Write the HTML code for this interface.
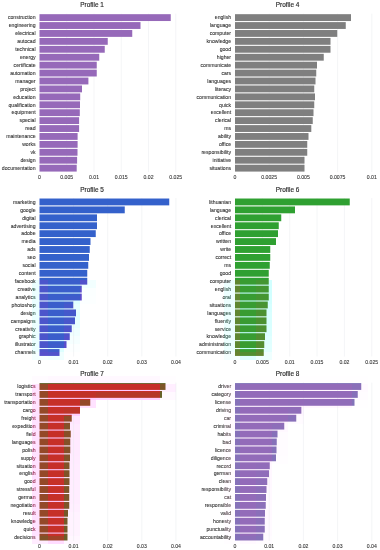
<!DOCTYPE html><html><head><meta charset="utf-8"><title>Profiles</title><style>html,body{margin:0;padding:0;background:#fff}svg{display:block}text{font-family:"Liberation Sans",sans-serif;stroke-width:0.09px}</style></head><body>
<svg width="380" height="550" viewBox="0 0 380 550">
<defs><filter id="tb" x="-5%" y="-20%" width="110%" height="140%"><feGaussianBlur stdDeviation="0.36"/></filter></defs>
<rect width="380" height="550" fill="#fff"/>
<g>
<rect x="32" y="280" width="16" height="8" fill="#ebffff"/>
<rect x="48" y="280" width="32" height="8" fill="#d9ffff"/>
<rect x="80" y="280" width="16" height="8" fill="#f2ffff"/>
<rect x="224" y="280" width="16" height="8" fill="#edffff"/>
<rect x="240" y="280" width="16" height="8" fill="#c5ffff"/>
<rect x="256" y="280" width="16" height="8" fill="#d1ffff"/>
<rect x="32" y="288" width="16" height="8" fill="#ebffff"/>
<rect x="48" y="288" width="32" height="8" fill="#d9ffff"/>
<rect x="80" y="288" width="16" height="8" fill="#fbffff"/>
<rect x="224" y="288" width="16" height="8" fill="#edffff"/>
<rect x="240" y="288" width="16" height="8" fill="#c5ffff"/>
<rect x="256" y="288" width="16" height="8" fill="#d1ffff"/>
<rect x="32" y="296" width="16" height="8" fill="#ebffff"/>
<rect x="48" y="296" width="16" height="8" fill="#d9ffff"/>
<rect x="64" y="296" width="16" height="8" fill="#dfffff"/>
<rect x="80" y="296" width="16" height="8" fill="#fcffff"/>
<rect x="224" y="296" width="16" height="8" fill="#edffff"/>
<rect x="240" y="296" width="16" height="8" fill="#c5ffff"/>
<rect x="256" y="296" width="16" height="8" fill="#d2ffff"/>
<rect x="32" y="304" width="16" height="8" fill="#ebffff"/>
<rect x="48" y="304" width="16" height="8" fill="#d9ffff"/>
<rect x="64" y="304" width="16" height="8" fill="#e7ffff"/>
<rect x="224" y="304" width="16" height="8" fill="#edffff"/>
<rect x="240" y="304" width="16" height="8" fill="#c5ffff"/>
<rect x="256" y="304" width="16" height="8" fill="#d6ffff"/>
<rect x="32" y="312" width="16" height="8" fill="#ebffff"/>
<rect x="48" y="312" width="16" height="8" fill="#d9ffff"/>
<rect x="64" y="312" width="16" height="8" fill="#e4ffff"/>
<rect x="224" y="312" width="16" height="8" fill="#edffff"/>
<rect x="240" y="312" width="16" height="8" fill="#c5ffff"/>
<rect x="256" y="312" width="16" height="8" fill="#d9ffff"/>
<rect x="32" y="320" width="16" height="8" fill="#ebffff"/>
<rect x="48" y="320" width="16" height="8" fill="#d9ffff"/>
<rect x="64" y="320" width="16" height="8" fill="#e8ffff"/>
<rect x="224" y="320" width="16" height="8" fill="#edffff"/>
<rect x="240" y="320" width="16" height="8" fill="#c5ffff"/>
<rect x="256" y="320" width="16" height="8" fill="#d9ffff"/>
<rect x="32" y="328" width="16" height="8" fill="#ebffff"/>
<rect x="48" y="328" width="16" height="8" fill="#d9ffff"/>
<rect x="64" y="328" width="16" height="8" fill="#efffff"/>
<rect x="224" y="328" width="16" height="8" fill="#edffff"/>
<rect x="240" y="328" width="16" height="8" fill="#c5ffff"/>
<rect x="256" y="328" width="16" height="8" fill="#dbffff"/>
<rect x="32" y="336" width="16" height="8" fill="#ebffff"/>
<rect x="48" y="336" width="16" height="8" fill="#d9ffff"/>
<rect x="64" y="336" width="16" height="8" fill="#f5ffff"/>
<rect x="224" y="336" width="16" height="8" fill="#edffff"/>
<rect x="240" y="336" width="16" height="8" fill="#c5ffff"/>
<rect x="256" y="336" width="16" height="8" fill="#e0ffff"/>
<rect x="32" y="344" width="16" height="8" fill="#ebffff"/>
<rect x="48" y="344" width="16" height="8" fill="#deffff"/>
<rect x="64" y="344" width="16" height="8" fill="#fcffff"/>
<rect x="224" y="344" width="16" height="8" fill="#edffff"/>
<rect x="240" y="344" width="16" height="8" fill="#c5ffff"/>
<rect x="256" y="344" width="16" height="8" fill="#e2ffff"/>
<rect x="32" y="352" width="16" height="8" fill="#f4ffff"/>
<rect x="48" y="352" width="16" height="8" fill="#f0ffff"/>
<rect x="224" y="352" width="16" height="8" fill="#f5ffff"/>
<rect x="240" y="352" width="16" height="8" fill="#deffff"/>
<rect x="256" y="352" width="16" height="8" fill="#efffff"/>
<rect x="32" y="376" width="16" height="8" fill="#fffbff"/>
<rect x="48" y="376" width="112" height="8" fill="#fff8ff"/>
<rect x="160" y="376" width="16" height="8" fill="#fffdff"/>
<rect x="240" y="376" width="128" height="8" fill="#fffeff"/>
<rect x="32" y="384" width="16" height="8" fill="#ffe2ff"/>
<rect x="48" y="384" width="112" height="8" fill="#ffc9ff"/>
<rect x="160" y="384" width="16" height="8" fill="#ffeeff"/>
<rect x="224" y="384" width="16" height="8" fill="#fffcff"/>
<rect x="240" y="384" width="112" height="8" fill="#fff5ff"/>
<rect x="352" y="384" width="16" height="8" fill="#fffaff"/>
<rect x="32" y="392" width="16" height="8" fill="#ffe2ff"/>
<rect x="48" y="392" width="32" height="8" fill="#ffc9ff"/>
<rect x="80" y="392" width="16" height="8" fill="#ffccff"/>
<rect x="96" y="392" width="64" height="8" fill="#ffd1ff"/>
<rect x="160" y="392" width="16" height="8" fill="#fff9ff"/>
<rect x="224" y="392" width="16" height="8" fill="#fffcff"/>
<rect x="240" y="392" width="112" height="8" fill="#fff5ff"/>
<rect x="352" y="392" width="16" height="8" fill="#fffcff"/>
<rect x="32" y="400" width="16" height="8" fill="#ffe2ff"/>
<rect x="48" y="400" width="32" height="8" fill="#ffc9ff"/>
<rect x="80" y="400" width="16" height="8" fill="#ffe2ff"/>
<rect x="224" y="400" width="16" height="8" fill="#fffcff"/>
<rect x="240" y="400" width="64" height="8" fill="#fff5ff"/>
<rect x="304" y="400" width="48" height="8" fill="#fff7ff"/>
<rect x="352" y="400" width="16" height="8" fill="#fffeff"/>
<rect x="32" y="408" width="16" height="8" fill="#ffe2ff"/>
<rect x="48" y="408" width="16" height="8" fill="#ffc9ff"/>
<rect x="64" y="408" width="16" height="8" fill="#ffceff"/>
<rect x="224" y="408" width="16" height="8" fill="#fffcff"/>
<rect x="240" y="408" width="48" height="8" fill="#fff5ff"/>
<rect x="288" y="408" width="16" height="8" fill="#fff7ff"/>
<rect x="32" y="416" width="16" height="8" fill="#ffe2ff"/>
<rect x="48" y="416" width="16" height="8" fill="#ffc9ff"/>
<rect x="64" y="416" width="16" height="8" fill="#ffe6ff"/>
<rect x="224" y="416" width="16" height="8" fill="#fffcff"/>
<rect x="240" y="416" width="32" height="8" fill="#fff5ff"/>
<rect x="272" y="416" width="16" height="8" fill="#fff6ff"/>
<rect x="288" y="416" width="16" height="8" fill="#fffbff"/>
<rect x="32" y="424" width="16" height="8" fill="#ffe2ff"/>
<rect x="48" y="424" width="16" height="8" fill="#ffc9ff"/>
<rect x="64" y="424" width="16" height="8" fill="#ffeaff"/>
<rect x="224" y="424" width="16" height="8" fill="#fffcff"/>
<rect x="240" y="424" width="32" height="8" fill="#fff5ff"/>
<rect x="272" y="424" width="16" height="8" fill="#fff8ff"/>
<rect x="32" y="432" width="16" height="8" fill="#ffe2ff"/>
<rect x="48" y="432" width="16" height="8" fill="#ffc9ff"/>
<rect x="64" y="432" width="16" height="8" fill="#ffe9ff"/>
<rect x="224" y="432" width="16" height="8" fill="#fffcff"/>
<rect x="240" y="432" width="32" height="8" fill="#fff5ff"/>
<rect x="272" y="432" width="16" height="8" fill="#fffcff"/>
<rect x="32" y="440" width="16" height="8" fill="#ffe2ff"/>
<rect x="48" y="440" width="16" height="8" fill="#ffc9ff"/>
<rect x="64" y="440" width="16" height="8" fill="#ffeaff"/>
<rect x="224" y="440" width="16" height="8" fill="#fffcff"/>
<rect x="240" y="440" width="32" height="8" fill="#fff5ff"/>
<rect x="272" y="440" width="16" height="8" fill="#fffcff"/>
<rect x="32" y="448" width="16" height="8" fill="#ffe2ff"/>
<rect x="48" y="448" width="16" height="8" fill="#ffc9ff"/>
<rect x="64" y="448" width="16" height="8" fill="#ffeaff"/>
<rect x="224" y="448" width="16" height="8" fill="#fffcff"/>
<rect x="240" y="448" width="32" height="8" fill="#fff5ff"/>
<rect x="272" y="448" width="16" height="8" fill="#fffcff"/>
<rect x="32" y="456" width="16" height="8" fill="#ffe2ff"/>
<rect x="48" y="456" width="16" height="8" fill="#ffc9ff"/>
<rect x="64" y="456" width="16" height="8" fill="#ffebff"/>
<rect x="224" y="456" width="16" height="8" fill="#fffcff"/>
<rect x="240" y="456" width="32" height="8" fill="#fff5ff"/>
<rect x="272" y="456" width="16" height="8" fill="#fffdff"/>
<rect x="32" y="464" width="16" height="8" fill="#ffe2ff"/>
<rect x="48" y="464" width="16" height="8" fill="#ffc9ff"/>
<rect x="64" y="464" width="16" height="8" fill="#ffecff"/>
<rect x="224" y="464" width="16" height="8" fill="#fffcff"/>
<rect x="240" y="464" width="16" height="8" fill="#fff5ff"/>
<rect x="256" y="464" width="16" height="8" fill="#fff7ff"/>
<rect x="32" y="472" width="16" height="8" fill="#ffe2ff"/>
<rect x="48" y="472" width="16" height="8" fill="#ffc9ff"/>
<rect x="64" y="472" width="16" height="8" fill="#ffecff"/>
<rect x="224" y="472" width="16" height="8" fill="#fffcff"/>
<rect x="240" y="472" width="16" height="8" fill="#fff5ff"/>
<rect x="256" y="472" width="16" height="8" fill="#fff7ff"/>
<rect x="32" y="480" width="16" height="8" fill="#ffe2ff"/>
<rect x="48" y="480" width="16" height="8" fill="#ffc9ff"/>
<rect x="64" y="480" width="16" height="8" fill="#ffedff"/>
<rect x="224" y="480" width="16" height="8" fill="#fffcff"/>
<rect x="240" y="480" width="16" height="8" fill="#fff5ff"/>
<rect x="256" y="480" width="16" height="8" fill="#fff8ff"/>
<rect x="32" y="488" width="16" height="8" fill="#ffe2ff"/>
<rect x="48" y="488" width="16" height="8" fill="#ffc9ff"/>
<rect x="64" y="488" width="16" height="8" fill="#ffedff"/>
<rect x="224" y="488" width="16" height="8" fill="#fffcff"/>
<rect x="240" y="488" width="16" height="8" fill="#fff5ff"/>
<rect x="256" y="488" width="16" height="8" fill="#fff9ff"/>
<rect x="32" y="496" width="16" height="8" fill="#ffe2ff"/>
<rect x="48" y="496" width="16" height="8" fill="#ffc9ff"/>
<rect x="64" y="496" width="16" height="8" fill="#ffedff"/>
<rect x="224" y="496" width="16" height="8" fill="#fffcff"/>
<rect x="240" y="496" width="16" height="8" fill="#fff5ff"/>
<rect x="256" y="496" width="16" height="8" fill="#fff9ff"/>
<rect x="32" y="504" width="16" height="8" fill="#ffe2ff"/>
<rect x="48" y="504" width="16" height="8" fill="#ffc9ff"/>
<rect x="64" y="504" width="16" height="8" fill="#ffefff"/>
<rect x="224" y="504" width="16" height="8" fill="#fffcff"/>
<rect x="240" y="504" width="16" height="8" fill="#fff5ff"/>
<rect x="256" y="504" width="16" height="8" fill="#fff9ff"/>
<rect x="32" y="512" width="16" height="8" fill="#ffe2ff"/>
<rect x="48" y="512" width="16" height="8" fill="#ffc9ff"/>
<rect x="64" y="512" width="16" height="8" fill="#fff2ff"/>
<rect x="224" y="512" width="16" height="8" fill="#fffcff"/>
<rect x="240" y="512" width="16" height="8" fill="#fff5ff"/>
<rect x="256" y="512" width="16" height="8" fill="#fff9ff"/>
<rect x="32" y="520" width="16" height="8" fill="#ffe2ff"/>
<rect x="48" y="520" width="16" height="8" fill="#ffc9ff"/>
<rect x="64" y="520" width="16" height="8" fill="#fff3ff"/>
<rect x="224" y="520" width="16" height="8" fill="#fffcff"/>
<rect x="240" y="520" width="16" height="8" fill="#fff5ff"/>
<rect x="256" y="520" width="16" height="8" fill="#fffaff"/>
<rect x="32" y="528" width="16" height="8" fill="#ffe2ff"/>
<rect x="48" y="528" width="16" height="8" fill="#ffc9ff"/>
<rect x="64" y="528" width="16" height="8" fill="#fff3ff"/>
<rect x="224" y="528" width="16" height="8" fill="#fffcff"/>
<rect x="240" y="528" width="16" height="8" fill="#fff5ff"/>
<rect x="256" y="528" width="16" height="8" fill="#fffaff"/>
<rect x="32" y="536" width="16" height="8" fill="#ffecff"/>
<rect x="48" y="536" width="16" height="8" fill="#ffdcff"/>
<rect x="64" y="536" width="16" height="8" fill="#fff7ff"/>
<rect x="224" y="536" width="16" height="8" fill="#fffdff"/>
<rect x="240" y="536" width="16" height="8" fill="#fff9ff"/>
<rect x="256" y="536" width="16" height="8" fill="#fffcff"/>
</g>
<g>
<line x1="66.75" y1="13.64" x2="66.75" y2="172.12" stroke="#e9ebee" stroke-width="0.5"/>
<line x1="94.00" y1="13.64" x2="94.00" y2="172.12" stroke="#e9ebee" stroke-width="0.5"/>
<line x1="121.25" y1="13.64" x2="121.25" y2="172.12" stroke="#e9ebee" stroke-width="0.5"/>
<line x1="148.50" y1="13.64" x2="148.50" y2="172.12" stroke="#e9ebee" stroke-width="0.5"/>
<line x1="175.75" y1="13.64" x2="175.75" y2="172.12" stroke="#e9ebee" stroke-width="0.5"/>
<rect x="39.50" y="14.18" width="131.25" height="6.85" fill="#9669b9"/>
<rect x="39.50" y="22.10" width="101.00" height="6.85" fill="#9669b9"/>
<rect x="39.50" y="30.02" width="92.75" height="6.85" fill="#9669b9"/>
<rect x="39.50" y="37.95" width="68.25" height="6.85" fill="#9669b9"/>
<rect x="39.50" y="45.87" width="65.25" height="6.85" fill="#9669b9"/>
<rect x="39.50" y="53.80" width="59.75" height="6.85" fill="#9669b9"/>
<rect x="39.50" y="61.72" width="57.25" height="6.85" fill="#9669b9"/>
<rect x="39.50" y="69.64" width="57.25" height="6.85" fill="#9669b9"/>
<rect x="39.50" y="77.57" width="48.90" height="6.85" fill="#9669b9"/>
<rect x="39.50" y="85.49" width="42.50" height="6.85" fill="#9669b9"/>
<rect x="39.50" y="93.42" width="40.70" height="6.85" fill="#9669b9"/>
<rect x="39.50" y="101.34" width="40.50" height="6.85" fill="#9669b9"/>
<rect x="39.50" y="109.26" width="40.30" height="6.85" fill="#9669b9"/>
<rect x="39.50" y="117.19" width="39.60" height="6.85" fill="#9669b9"/>
<rect x="39.50" y="125.11" width="39.60" height="6.85" fill="#9669b9"/>
<rect x="39.50" y="133.03" width="38.10" height="6.85" fill="#9669b9"/>
<rect x="39.50" y="140.96" width="38.10" height="6.85" fill="#9669b9"/>
<rect x="39.50" y="148.88" width="38.00" height="6.85" fill="#9669b9"/>
<rect x="39.50" y="156.81" width="37.60" height="6.85" fill="#9669b9"/>
<rect x="39.50" y="164.73" width="37.20" height="6.85" fill="#9669b9"/>
<clipPath id="c39a"><rect x="-28" y="0" width="60" height="550"/></clipPath><clipPath id="c39b"><rect x="32" y="0" width="16" height="550"/></clipPath>
<g font-size="5.15" fill="#323232" stroke="#323232" text-anchor="end" filter="url(#tb)">
<text x="35.60" y="19.40">construction</text>
<text x="35.60" y="27.32">engineering</text>
<text x="35.60" y="35.25">electrical</text>
<text x="35.60" y="43.17">autocad</text>
<text x="35.60" y="51.10">technical</text>
<text x="35.60" y="59.02">energy</text>
<text x="35.60" y="66.94">certificate</text>
<text x="35.60" y="74.87">automation</text>
<text x="35.60" y="82.79">manager</text>
<text x="35.60" y="90.72">project</text>
<text x="35.60" y="98.64">education</text>
<text x="35.60" y="106.56">qualification</text>
<text x="35.60" y="114.49">equipment</text>
<text x="35.60" y="122.41">special</text>
<text x="35.60" y="130.34">read</text>
<text x="35.60" y="138.26">maintenance</text>
<text x="35.60" y="146.18">works</text>
<text x="35.60" y="154.11">vk</text>
<text x="35.60" y="162.03">design</text>
<text x="35.60" y="169.96">documentation</text>
</g>
<g font-size="5.15" fill="#323232" stroke="#323232" text-anchor="middle" filter="url(#tb)">
<text x="39.50" y="179.32">0</text>
<text x="66.75" y="179.32">0.005</text>
<text x="94.00" y="179.32">0.01</text>
<text x="121.25" y="179.32">0.015</text>
<text x="148.50" y="179.32">0.02</text>
<text x="175.75" y="179.32">0.025</text>
</g>
<text x="92.1" y="7.24" font-size="6.45" fill="#2c2c2c" stroke="#2c2c2c" style="stroke-width:0.16px" text-anchor="middle" filter="url(#tb)">Profile 1</text>
</g>
<g>
<line x1="269.20" y1="13.64" x2="269.20" y2="172.12" stroke="#e9ebee" stroke-width="0.5"/>
<line x1="303.40" y1="13.64" x2="303.40" y2="172.12" stroke="#e9ebee" stroke-width="0.5"/>
<line x1="337.60" y1="13.64" x2="337.60" y2="172.12" stroke="#e9ebee" stroke-width="0.5"/>
<line x1="371.80" y1="13.64" x2="371.80" y2="172.12" stroke="#e9ebee" stroke-width="0.5"/>
<rect x="235.00" y="14.18" width="116.00" height="6.85" fill="#7f7f7f"/>
<rect x="235.00" y="22.10" width="110.75" height="6.85" fill="#7f7f7f"/>
<rect x="235.00" y="30.02" width="102.25" height="6.85" fill="#7f7f7f"/>
<rect x="235.00" y="37.95" width="95.50" height="6.85" fill="#7f7f7f"/>
<rect x="235.00" y="45.87" width="95.50" height="6.85" fill="#7f7f7f"/>
<rect x="235.00" y="53.80" width="88.75" height="6.85" fill="#7f7f7f"/>
<rect x="235.00" y="61.72" width="82.00" height="6.85" fill="#7f7f7f"/>
<rect x="235.00" y="69.64" width="81.25" height="6.85" fill="#7f7f7f"/>
<rect x="235.00" y="77.57" width="80.50" height="6.85" fill="#7f7f7f"/>
<rect x="235.00" y="85.49" width="79.25" height="6.85" fill="#7f7f7f"/>
<rect x="235.00" y="93.42" width="80.00" height="6.85" fill="#7f7f7f"/>
<rect x="235.00" y="101.34" width="79.25" height="6.85" fill="#7f7f7f"/>
<rect x="235.00" y="109.26" width="78.50" height="6.85" fill="#7f7f7f"/>
<rect x="235.00" y="117.19" width="77.75" height="6.85" fill="#7f7f7f"/>
<rect x="235.00" y="125.11" width="76.30" height="6.85" fill="#7f7f7f"/>
<rect x="235.00" y="133.03" width="73.50" height="6.85" fill="#7f7f7f"/>
<rect x="235.00" y="140.96" width="72.25" height="6.85" fill="#7f7f7f"/>
<rect x="235.00" y="148.88" width="72.25" height="6.85" fill="#7f7f7f"/>
<rect x="235.00" y="156.81" width="69.50" height="6.85" fill="#7f7f7f"/>
<rect x="235.00" y="164.73" width="69.50" height="6.85" fill="#7f7f7f"/>
<clipPath id="c235a"><rect x="164" y="0" width="60" height="550"/></clipPath><clipPath id="c235b"><rect x="224" y="0" width="16" height="550"/></clipPath>
<g font-size="5.15" fill="#323232" stroke="#323232" text-anchor="end" filter="url(#tb)">
<text x="231.10" y="19.40">english</text>
<text x="231.10" y="27.32">language</text>
<text x="231.10" y="35.25">computer</text>
<text x="231.10" y="43.17">knowledge</text>
<text x="231.10" y="51.10">good</text>
<text x="231.10" y="59.02">higher</text>
<text x="231.10" y="66.94">communicate</text>
<text x="231.10" y="74.87">cars</text>
<text x="231.10" y="82.79">languages</text>
<text x="231.10" y="90.72">literacy</text>
<text x="231.10" y="98.64">communication</text>
<text x="231.10" y="106.56">quick</text>
<text x="231.10" y="114.49">excellent</text>
<text x="231.10" y="122.41">clerical</text>
<text x="231.10" y="130.34">ms</text>
<text x="231.10" y="138.26">ability</text>
<text x="231.10" y="146.18">office</text>
<text x="231.10" y="154.11">responsibility</text>
<text x="231.10" y="162.03">initiative</text>
<text x="231.10" y="169.96">situations</text>
</g>
<g font-size="5.15" fill="#323232" stroke="#323232" text-anchor="middle" filter="url(#tb)">
<text x="235.00" y="179.32">0</text>
<text x="269.20" y="179.32">0.0025</text>
<text x="303.40" y="179.32">0.005</text>
<text x="337.60" y="179.32">0.0075</text>
<text x="371.80" y="179.32">0.01</text>
</g>
<text x="287.6" y="7.24" font-size="6.45" fill="#2c2c2c" stroke="#2c2c2c" style="stroke-width:0.16px" text-anchor="middle" filter="url(#tb)">Profile 4</text>
</g>
<g>
<line x1="73.60" y1="197.99" x2="73.60" y2="356.47" stroke="#e9ebee" stroke-width="0.5"/>
<line x1="107.70" y1="197.99" x2="107.70" y2="356.47" stroke="#e9ebee" stroke-width="0.5"/>
<line x1="141.80" y1="197.99" x2="141.80" y2="356.47" stroke="#e9ebee" stroke-width="0.5"/>
<line x1="175.90" y1="197.99" x2="175.90" y2="356.47" stroke="#e9ebee" stroke-width="0.5"/>
<rect x="39.50" y="198.52" width="129.75" height="6.85" fill="#3461cb"/>
<rect x="39.50" y="206.45" width="85.25" height="6.85" fill="#3461cb"/>
<rect x="39.50" y="214.37" width="57.50" height="6.85" fill="#3461cb"/>
<rect x="39.50" y="222.30" width="57.50" height="6.85" fill="#3461cb"/>
<rect x="39.50" y="230.22" width="56.25" height="6.85" fill="#3461cb"/>
<rect x="39.50" y="238.14" width="51.00" height="6.85" fill="#3461cb"/>
<rect x="39.50" y="246.07" width="50.25" height="6.85" fill="#3461cb"/>
<rect x="39.50" y="253.99" width="49.50" height="6.85" fill="#3461cb"/>
<rect x="39.50" y="261.92" width="48.75" height="6.85" fill="#3461cb"/>
<rect x="39.50" y="269.84" width="47.75" height="6.85" fill="#3461cb"/>
<rect x="39.50" y="277.76" width="47.75" height="2.24" fill="#3461cb"/>
<rect x="39.50" y="280.00" width="8.50" height="4.62" fill="#4c55cb"/>
<rect x="48.00" y="280.00" width="32.00" height="4.62" fill="#3a5ecb"/>
<rect x="80.00" y="280.00" width="7.25" height="4.62" fill="#5351cb"/>
<rect x="39.50" y="285.69" width="8.50" height="2.31" fill="#4c55cb"/>
<rect x="48.00" y="285.69" width="32.00" height="2.31" fill="#3a5ecb"/>
<rect x="80.00" y="285.69" width="1.75" height="2.31" fill="#5351cb"/>
<rect x="39.50" y="288.00" width="8.50" height="4.54" fill="#4c55cb"/>
<rect x="48.00" y="288.00" width="32.00" height="4.54" fill="#3a5ecb"/>
<rect x="80.00" y="288.00" width="1.75" height="4.54" fill="#5b4dcb"/>
<rect x="39.50" y="293.61" width="8.50" height="2.39" fill="#4c55cb"/>
<rect x="48.00" y="293.61" width="32.00" height="2.39" fill="#3a5ecb"/>
<rect x="80.00" y="293.61" width="1.75" height="2.39" fill="#5b4dcb"/>
<rect x="39.50" y="296.00" width="8.50" height="4.46" fill="#4c55cb"/>
<rect x="48.00" y="296.00" width="16.00" height="4.46" fill="#3a5ecb"/>
<rect x="64.00" y="296.00" width="16.00" height="4.46" fill="#3f5bcb"/>
<rect x="80.00" y="296.00" width="1.75" height="4.46" fill="#5d4ccb"/>
<rect x="39.50" y="301.54" width="8.50" height="2.46" fill="#4c55cb"/>
<rect x="48.00" y="301.54" width="16.00" height="2.46" fill="#3a5ecb"/>
<rect x="64.00" y="301.54" width="9.25" height="2.46" fill="#3f5bcb"/>
<rect x="39.50" y="304.00" width="8.50" height="4.39" fill="#4c55cb"/>
<rect x="48.00" y="304.00" width="16.00" height="4.39" fill="#3a5ecb"/>
<rect x="64.00" y="304.00" width="9.25" height="4.39" fill="#4757cb"/>
<rect x="39.50" y="309.46" width="8.50" height="2.54" fill="#4c55cb"/>
<rect x="48.00" y="309.46" width="16.00" height="2.54" fill="#3a5ecb"/>
<rect x="64.00" y="309.46" width="12.00" height="2.54" fill="#4757cb"/>
<rect x="39.50" y="312.00" width="8.50" height="4.31" fill="#4c55cb"/>
<rect x="48.00" y="312.00" width="16.00" height="4.31" fill="#3a5ecb"/>
<rect x="64.00" y="312.00" width="12.00" height="4.31" fill="#4459cb"/>
<rect x="39.50" y="317.38" width="8.50" height="2.62" fill="#4c55cb"/>
<rect x="48.00" y="317.38" width="16.00" height="2.62" fill="#3a5ecb"/>
<rect x="64.00" y="317.38" width="11.00" height="2.62" fill="#4459cb"/>
<rect x="39.50" y="320.00" width="8.50" height="4.24" fill="#4c55cb"/>
<rect x="48.00" y="320.00" width="16.00" height="4.24" fill="#3a5ecb"/>
<rect x="64.00" y="320.00" width="11.00" height="4.24" fill="#4956cb"/>
<rect x="39.50" y="325.31" width="8.50" height="2.69" fill="#4c55cb"/>
<rect x="48.00" y="325.31" width="16.00" height="2.69" fill="#3a5ecb"/>
<rect x="64.00" y="325.31" width="7.75" height="2.69" fill="#4956cb"/>
<rect x="39.50" y="328.00" width="8.50" height="4.16" fill="#4c55cb"/>
<rect x="48.00" y="328.00" width="16.00" height="4.16" fill="#3a5ecb"/>
<rect x="64.00" y="328.00" width="7.75" height="4.16" fill="#4f53cb"/>
<rect x="39.50" y="333.23" width="8.50" height="2.77" fill="#4c55cb"/>
<rect x="48.00" y="333.23" width="16.00" height="2.77" fill="#3a5ecb"/>
<rect x="64.00" y="333.23" width="5.75" height="2.77" fill="#4f53cb"/>
<rect x="39.50" y="336.00" width="8.50" height="4.08" fill="#4c55cb"/>
<rect x="48.00" y="336.00" width="16.00" height="4.08" fill="#3a5ecb"/>
<rect x="64.00" y="336.00" width="5.75" height="4.08" fill="#5550cb"/>
<rect x="39.50" y="341.16" width="8.50" height="2.84" fill="#4c55cb"/>
<rect x="48.00" y="341.16" width="16.00" height="2.84" fill="#3a5ecb"/>
<rect x="64.00" y="341.16" width="2.50" height="2.84" fill="#5550cb"/>
<rect x="39.50" y="344.00" width="8.50" height="4.01" fill="#4c55cb"/>
<rect x="48.00" y="344.00" width="16.00" height="4.01" fill="#3e5ccb"/>
<rect x="64.00" y="344.00" width="2.50" height="4.01" fill="#5c4dcb"/>
<rect x="39.50" y="349.08" width="8.50" height="2.92" fill="#4c55cb"/>
<rect x="48.00" y="349.08" width="11.50" height="2.92" fill="#3e5ccb"/>
<rect x="39.50" y="352.00" width="8.50" height="3.93" fill="#5451cb"/>
<rect x="48.00" y="352.00" width="11.50" height="3.93" fill="#5053cb"/>
<g font-size="5.15" fill="#323232" stroke="#323232" text-anchor="end" filter="url(#tb)">
<text x="35.60" y="203.75">marketing</text>
<text x="35.60" y="211.67">google</text>
<text x="35.60" y="219.60">digital</text>
<text x="35.60" y="227.52">advertising</text>
<text x="35.60" y="235.45">adobe</text>
<text x="35.60" y="243.37">media</text>
<text x="35.60" y="251.29">ads</text>
<text x="35.60" y="259.22">seo</text>
<text x="35.60" y="267.14">social</text>
<text x="35.60" y="275.07">content</text>
<text x="35.60" y="282.99">facebook</text>
<g clip-path="url(#c39a)">
<text x="35.60" y="290.91">creative</text>
<text x="35.60" y="298.84">analytics</text>
<text x="35.60" y="306.76">photoshop</text>
<text x="35.60" y="314.69">design</text>
<text x="35.60" y="322.61">campaigns</text>
<text x="35.60" y="330.53">creativity</text>
<text x="35.60" y="338.46">graphic</text>
<text x="35.60" y="346.38">illustrator</text>
<text x="35.60" y="354.31">channels</text>
</g>
<g clip-path="url(#c39b)">
<text x="35.60" y="290.91" fill="#355b4e" stroke="#355b4e">creative</text>
<text x="35.60" y="298.84" fill="#355b4e" stroke="#355b4e">analytics</text>
<text x="35.60" y="306.76" fill="#355b4e" stroke="#355b4e">photoshop</text>
<text x="35.60" y="314.69" fill="#355b4e" stroke="#355b4e">design</text>
<text x="35.60" y="322.61" fill="#355b4e" stroke="#355b4e">campaigns</text>
<text x="35.60" y="330.53" fill="#355b4e" stroke="#355b4e">creativity</text>
<text x="35.60" y="338.46" fill="#355b4e" stroke="#355b4e">graphic</text>
<text x="35.60" y="346.38" fill="#355b4e" stroke="#355b4e">illustrator</text>
<text x="35.60" y="354.31" fill="#40554e" stroke="#40554e">channels</text>
</g>
</g>
<g font-size="5.15" fill="#323232" stroke="#323232" text-anchor="middle" filter="url(#tb)">
<text x="39.50" y="363.67">0</text>
<text x="73.60" y="363.67">0.01</text>
<text x="107.70" y="363.67">0.02</text>
<text x="141.80" y="363.67">0.03</text>
<text x="175.90" y="363.67">0.04</text>
</g>
<text x="92.1" y="191.94" font-size="6.45" fill="#2c2c2c" stroke="#2c2c2c" style="stroke-width:0.16px" text-anchor="middle" filter="url(#tb)">Profile 5</text>
</g>
<g>
<line x1="262.35" y1="197.99" x2="262.35" y2="356.47" stroke="#e9ebee" stroke-width="0.5"/>
<line x1="289.70" y1="197.99" x2="289.70" y2="356.47" stroke="#e9ebee" stroke-width="0.5"/>
<line x1="317.05" y1="197.99" x2="317.05" y2="356.47" stroke="#e9ebee" stroke-width="0.5"/>
<line x1="344.40" y1="197.99" x2="344.40" y2="356.47" stroke="#e9ebee" stroke-width="0.5"/>
<line x1="371.75" y1="197.99" x2="371.75" y2="356.47" stroke="#e9ebee" stroke-width="0.5"/>
<rect x="235.00" y="198.52" width="114.75" height="6.85" fill="#2fa031"/>
<rect x="235.00" y="206.45" width="60.00" height="6.85" fill="#2fa031"/>
<rect x="235.00" y="214.37" width="46.25" height="6.85" fill="#2fa031"/>
<rect x="235.00" y="222.30" width="43.75" height="6.85" fill="#2fa031"/>
<rect x="235.00" y="230.22" width="43.00" height="6.85" fill="#2fa031"/>
<rect x="235.00" y="238.14" width="41.00" height="6.85" fill="#2fa031"/>
<rect x="235.00" y="246.07" width="35.25" height="6.85" fill="#2fa031"/>
<rect x="235.00" y="253.99" width="35.25" height="6.85" fill="#2fa031"/>
<rect x="235.00" y="261.92" width="34.75" height="6.85" fill="#2fa031"/>
<rect x="235.00" y="269.84" width="33.75" height="6.85" fill="#2fa031"/>
<rect x="235.00" y="277.76" width="33.75" height="2.24" fill="#2fa031"/>
<rect x="235.00" y="280.00" width="5.00" height="4.62" fill="#608731"/>
<rect x="240.00" y="280.00" width="16.00" height="4.62" fill="#389c31"/>
<rect x="256.00" y="280.00" width="12.75" height="4.62" fill="#449631"/>
<rect x="235.00" y="285.69" width="5.00" height="2.31" fill="#608731"/>
<rect x="240.00" y="285.69" width="16.00" height="2.31" fill="#389c31"/>
<rect x="256.00" y="285.69" width="12.75" height="2.31" fill="#449631"/>
<rect x="235.00" y="288.00" width="5.00" height="4.54" fill="#608731"/>
<rect x="240.00" y="288.00" width="16.00" height="4.54" fill="#389c31"/>
<rect x="256.00" y="288.00" width="12.75" height="4.54" fill="#449631"/>
<rect x="235.00" y="293.61" width="5.00" height="2.39" fill="#608731"/>
<rect x="240.00" y="293.61" width="16.00" height="2.39" fill="#389c31"/>
<rect x="256.00" y="293.61" width="12.75" height="2.39" fill="#449631"/>
<rect x="235.00" y="296.00" width="5.00" height="4.46" fill="#608731"/>
<rect x="240.00" y="296.00" width="16.00" height="4.46" fill="#389c31"/>
<rect x="256.00" y="296.00" width="12.75" height="4.46" fill="#459531"/>
<rect x="235.00" y="301.54" width="5.00" height="2.46" fill="#608731"/>
<rect x="240.00" y="301.54" width="16.00" height="2.46" fill="#389c31"/>
<rect x="256.00" y="301.54" width="11.75" height="2.46" fill="#459531"/>
<rect x="235.00" y="304.00" width="5.00" height="4.39" fill="#608731"/>
<rect x="240.00" y="304.00" width="16.00" height="4.39" fill="#389c31"/>
<rect x="256.00" y="304.00" width="11.75" height="4.39" fill="#499331"/>
<rect x="235.00" y="309.46" width="5.00" height="2.54" fill="#608731"/>
<rect x="240.00" y="309.46" width="16.00" height="2.54" fill="#389c31"/>
<rect x="256.00" y="309.46" width="10.50" height="2.54" fill="#499331"/>
<rect x="235.00" y="312.00" width="5.00" height="4.31" fill="#5f8731"/>
<rect x="240.00" y="312.00" width="16.00" height="4.31" fill="#389c31"/>
<rect x="256.00" y="312.00" width="10.50" height="4.31" fill="#4c9131"/>
<rect x="235.00" y="317.38" width="5.00" height="2.62" fill="#5f8731"/>
<rect x="240.00" y="317.38" width="16.00" height="2.62" fill="#389c31"/>
<rect x="256.00" y="317.38" width="10.50" height="2.62" fill="#4c9131"/>
<rect x="235.00" y="320.00" width="5.00" height="4.24" fill="#608731"/>
<rect x="240.00" y="320.00" width="16.00" height="4.24" fill="#389b31"/>
<rect x="256.00" y="320.00" width="10.50" height="4.24" fill="#4c9131"/>
<rect x="235.00" y="325.31" width="5.00" height="2.69" fill="#608731"/>
<rect x="240.00" y="325.31" width="16.00" height="2.69" fill="#389b31"/>
<rect x="256.00" y="325.31" width="10.50" height="2.69" fill="#4c9131"/>
<rect x="235.00" y="328.00" width="5.00" height="4.16" fill="#608731"/>
<rect x="240.00" y="328.00" width="16.00" height="4.16" fill="#389c31"/>
<rect x="256.00" y="328.00" width="10.50" height="4.16" fill="#4e9031"/>
<rect x="235.00" y="333.23" width="5.00" height="2.77" fill="#608731"/>
<rect x="240.00" y="333.23" width="16.00" height="2.77" fill="#389c31"/>
<rect x="256.00" y="333.23" width="9.00" height="2.77" fill="#4e9031"/>
<rect x="235.00" y="336.00" width="5.00" height="4.08" fill="#608731"/>
<rect x="240.00" y="336.00" width="16.00" height="4.08" fill="#389c31"/>
<rect x="256.00" y="336.00" width="9.00" height="4.08" fill="#528e31"/>
<rect x="235.00" y="341.16" width="5.00" height="2.84" fill="#608731"/>
<rect x="240.00" y="341.16" width="16.00" height="2.84" fill="#389c31"/>
<rect x="256.00" y="341.16" width="8.25" height="2.84" fill="#528e31"/>
<rect x="235.00" y="344.00" width="5.00" height="4.01" fill="#5f8731"/>
<rect x="240.00" y="344.00" width="16.00" height="4.01" fill="#389c31"/>
<rect x="256.00" y="344.00" width="8.25" height="4.01" fill="#548d31"/>
<rect x="235.00" y="349.08" width="5.00" height="2.92" fill="#5f8731"/>
<rect x="240.00" y="349.08" width="16.00" height="2.92" fill="#389c31"/>
<rect x="256.00" y="349.08" width="7.75" height="2.92" fill="#548d31"/>
<rect x="235.00" y="352.00" width="5.00" height="3.93" fill="#678331"/>
<rect x="240.00" y="352.00" width="16.00" height="3.93" fill="#518f31"/>
<rect x="256.00" y="352.00" width="7.75" height="3.93" fill="#628631"/>
<g font-size="5.15" fill="#323232" stroke="#323232" text-anchor="end" filter="url(#tb)">
<text x="231.10" y="203.75">lithuanian</text>
<text x="231.10" y="211.67">language</text>
<text x="231.10" y="219.60">clerical</text>
<text x="231.10" y="227.52">excellent</text>
<text x="231.10" y="235.45">office</text>
<text x="231.10" y="243.37">written</text>
<text x="231.10" y="251.29">write</text>
<text x="231.10" y="259.22">correct</text>
<text x="231.10" y="267.14">ms</text>
<text x="231.10" y="275.07">good</text>
<text x="231.10" y="282.99">computer</text>
<g clip-path="url(#c235a)">
<text x="231.10" y="290.91">english</text>
<text x="231.10" y="298.84">oral</text>
<text x="231.10" y="306.76">situations</text>
<text x="231.10" y="314.69">languages</text>
<text x="231.10" y="322.61">fluently</text>
<text x="231.10" y="330.53">service</text>
<text x="231.10" y="338.46">knowledge</text>
<text x="231.10" y="346.38">administration</text>
<text x="231.10" y="354.31">communication</text>
</g>
<g clip-path="url(#c235b)">
<text x="231.10" y="290.91" fill="#37594e" stroke="#37594e">english</text>
<text x="231.10" y="298.84" fill="#37594e" stroke="#37594e">oral</text>
<text x="231.10" y="306.76" fill="#37594e" stroke="#37594e">situations</text>
<text x="231.10" y="314.69" fill="#375a4e" stroke="#375a4e">languages</text>
<text x="231.10" y="322.61" fill="#37594e" stroke="#37594e">fluently</text>
<text x="231.10" y="330.53" fill="#37594e" stroke="#37594e">service</text>
<text x="231.10" y="338.46" fill="#37594e" stroke="#37594e">knowledge</text>
<text x="231.10" y="346.38" fill="#375a4e" stroke="#375a4e">administration</text>
<text x="231.10" y="354.31" fill="#41554e" stroke="#41554e">communication</text>
</g>
</g>
<g font-size="5.15" fill="#323232" stroke="#323232" text-anchor="middle" filter="url(#tb)">
<text x="235.00" y="363.67">0</text>
<text x="262.35" y="363.67">0.005</text>
<text x="289.70" y="363.67">0.01</text>
<text x="317.05" y="363.67">0.015</text>
<text x="344.40" y="363.67">0.02</text>
<text x="371.75" y="363.67">0.025</text>
</g>
<text x="287.6" y="191.94" font-size="6.45" fill="#2c2c2c" stroke="#2c2c2c" style="stroke-width:0.16px" text-anchor="middle" filter="url(#tb)">Profile 6</text>
</g>
<g>
<line x1="73.60" y1="382.54" x2="73.60" y2="541.02" stroke="#e9ebee" stroke-width="0.5"/>
<line x1="107.70" y1="382.54" x2="107.70" y2="541.02" stroke="#e9ebee" stroke-width="0.5"/>
<line x1="141.80" y1="382.54" x2="141.80" y2="541.02" stroke="#e9ebee" stroke-width="0.5"/>
<line x1="175.90" y1="382.54" x2="175.90" y2="541.02" stroke="#e9ebee" stroke-width="0.5"/>
<rect x="39.50" y="383.07" width="8.50" height="0.93" fill="#636228"/>
<rect x="48.00" y="383.07" width="112.00" height="0.93" fill="#6a5e28"/>
<rect x="160.00" y="383.07" width="5.50" height="0.93" fill="#606328"/>
<rect x="39.50" y="384.00" width="8.50" height="5.93" fill="#944928"/>
<rect x="48.00" y="384.00" width="112.00" height="5.93" fill="#c62f28"/>
<rect x="160.00" y="384.00" width="5.50" height="5.93" fill="#7d5528"/>
<rect x="39.50" y="391.00" width="8.50" height="1.00" fill="#944928"/>
<rect x="48.00" y="391.00" width="112.00" height="1.00" fill="#c62f28"/>
<rect x="160.00" y="391.00" width="2.00" height="1.00" fill="#7d5528"/>
<rect x="39.50" y="392.00" width="8.50" height="5.85" fill="#944928"/>
<rect x="48.00" y="392.00" width="32.00" height="5.85" fill="#c62f28"/>
<rect x="80.00" y="392.00" width="16.00" height="5.85" fill="#c03228"/>
<rect x="96.00" y="392.00" width="64.00" height="5.85" fill="#b53828"/>
<rect x="160.00" y="392.00" width="2.00" height="5.85" fill="#676028"/>
<rect x="39.50" y="398.92" width="8.50" height="1.08" fill="#944928"/>
<rect x="48.00" y="398.92" width="32.00" height="1.08" fill="#c62f28"/>
<rect x="80.00" y="398.92" width="10.25" height="1.08" fill="#c03228"/>
<rect x="39.50" y="400.00" width="8.50" height="5.77" fill="#944928"/>
<rect x="48.00" y="400.00" width="32.00" height="5.77" fill="#c62f28"/>
<rect x="80.00" y="400.00" width="10.25" height="5.77" fill="#944928"/>
<rect x="39.50" y="406.85" width="8.50" height="1.15" fill="#944928"/>
<rect x="48.00" y="406.85" width="32.00" height="1.15" fill="#c62f28"/>
<rect x="39.50" y="408.00" width="8.50" height="5.70" fill="#944928"/>
<rect x="48.00" y="408.00" width="16.00" height="5.70" fill="#c62f28"/>
<rect x="64.00" y="408.00" width="16.00" height="5.70" fill="#bc3428"/>
<rect x="39.50" y="414.77" width="8.50" height="1.23" fill="#944928"/>
<rect x="48.00" y="414.77" width="16.00" height="1.23" fill="#c62f28"/>
<rect x="64.00" y="414.77" width="7.75" height="1.23" fill="#bc3428"/>
<rect x="39.50" y="416.00" width="8.50" height="5.62" fill="#944928"/>
<rect x="48.00" y="416.00" width="16.00" height="5.62" fill="#c62f28"/>
<rect x="64.00" y="416.00" width="7.75" height="5.62" fill="#8d4c28"/>
<rect x="39.50" y="422.69" width="8.50" height="1.31" fill="#944928"/>
<rect x="48.00" y="422.69" width="16.00" height="1.31" fill="#c62f28"/>
<rect x="64.00" y="422.69" width="6.00" height="1.31" fill="#8d4c28"/>
<rect x="39.50" y="424.00" width="8.50" height="5.55" fill="#944928"/>
<rect x="48.00" y="424.00" width="16.00" height="5.55" fill="#c62f28"/>
<rect x="64.00" y="424.00" width="6.00" height="5.55" fill="#845128"/>
<rect x="39.50" y="430.62" width="8.50" height="1.38" fill="#944928"/>
<rect x="48.00" y="430.62" width="16.00" height="1.38" fill="#c62f28"/>
<rect x="64.00" y="430.62" width="6.75" height="1.38" fill="#845128"/>
<rect x="39.50" y="432.00" width="8.50" height="5.47" fill="#944928"/>
<rect x="48.00" y="432.00" width="16.00" height="5.47" fill="#c62f28"/>
<rect x="64.00" y="432.00" width="6.75" height="5.47" fill="#884f28"/>
<rect x="39.50" y="438.54" width="8.50" height="1.46" fill="#944928"/>
<rect x="48.00" y="438.54" width="16.00" height="1.46" fill="#c62f28"/>
<rect x="64.00" y="438.54" width="6.25" height="1.46" fill="#884f28"/>
<rect x="39.50" y="440.00" width="8.50" height="5.39" fill="#944928"/>
<rect x="48.00" y="440.00" width="16.00" height="5.39" fill="#c62f28"/>
<rect x="64.00" y="440.00" width="6.25" height="5.39" fill="#855028"/>
<rect x="39.50" y="446.47" width="8.50" height="1.53" fill="#944928"/>
<rect x="48.00" y="446.47" width="16.00" height="1.53" fill="#c62f28"/>
<rect x="64.00" y="446.47" width="6.25" height="1.53" fill="#855028"/>
<rect x="39.50" y="448.00" width="8.50" height="5.32" fill="#944928"/>
<rect x="48.00" y="448.00" width="16.00" height="5.32" fill="#c62f28"/>
<rect x="64.00" y="448.00" width="6.25" height="5.32" fill="#855028"/>
<rect x="39.50" y="454.39" width="8.50" height="1.61" fill="#944928"/>
<rect x="48.00" y="454.39" width="16.00" height="1.61" fill="#c62f28"/>
<rect x="64.00" y="454.39" width="6.00" height="1.61" fill="#855028"/>
<rect x="39.50" y="456.00" width="8.50" height="5.24" fill="#944928"/>
<rect x="48.00" y="456.00" width="16.00" height="5.24" fill="#c62f28"/>
<rect x="64.00" y="456.00" width="6.00" height="5.24" fill="#825228"/>
<rect x="39.50" y="462.31" width="8.50" height="1.69" fill="#944928"/>
<rect x="48.00" y="462.31" width="16.00" height="1.69" fill="#c62f28"/>
<rect x="64.00" y="462.31" width="5.50" height="1.69" fill="#825228"/>
<rect x="39.50" y="464.00" width="8.50" height="5.17" fill="#944928"/>
<rect x="48.00" y="464.00" width="16.00" height="5.17" fill="#c62f28"/>
<rect x="64.00" y="464.00" width="5.50" height="5.17" fill="#805328"/>
<rect x="39.50" y="470.24" width="8.50" height="1.76" fill="#944928"/>
<rect x="48.00" y="470.24" width="16.00" height="1.76" fill="#c62f28"/>
<rect x="64.00" y="470.24" width="5.50" height="1.76" fill="#805328"/>
<rect x="39.50" y="472.00" width="8.50" height="5.09" fill="#944928"/>
<rect x="48.00" y="472.00" width="16.00" height="5.09" fill="#c62f28"/>
<rect x="64.00" y="472.00" width="5.50" height="5.09" fill="#805328"/>
<rect x="39.50" y="478.16" width="8.50" height="1.84" fill="#944928"/>
<rect x="48.00" y="478.16" width="16.00" height="1.84" fill="#c62f28"/>
<rect x="64.00" y="478.16" width="5.50" height="1.84" fill="#805328"/>
<rect x="39.50" y="480.00" width="8.50" height="5.01" fill="#944928"/>
<rect x="48.00" y="480.00" width="16.00" height="5.01" fill="#c62f28"/>
<rect x="64.00" y="480.00" width="5.50" height="5.01" fill="#7f5328"/>
<rect x="39.50" y="486.09" width="8.50" height="1.91" fill="#944928"/>
<rect x="48.00" y="486.09" width="16.00" height="1.91" fill="#c62f28"/>
<rect x="64.00" y="486.09" width="5.25" height="1.91" fill="#7f5328"/>
<rect x="39.50" y="488.00" width="8.50" height="4.94" fill="#944928"/>
<rect x="48.00" y="488.00" width="16.00" height="4.94" fill="#c62f28"/>
<rect x="64.00" y="488.00" width="5.25" height="4.94" fill="#7e5428"/>
<rect x="39.50" y="494.01" width="8.50" height="1.99" fill="#944928"/>
<rect x="48.00" y="494.01" width="16.00" height="1.99" fill="#c62f28"/>
<rect x="64.00" y="494.01" width="5.25" height="1.99" fill="#7e5428"/>
<rect x="39.50" y="496.00" width="8.50" height="4.86" fill="#944928"/>
<rect x="48.00" y="496.00" width="16.00" height="4.86" fill="#c62f28"/>
<rect x="64.00" y="496.00" width="5.25" height="4.86" fill="#7e5428"/>
<rect x="39.50" y="501.94" width="8.50" height="2.06" fill="#944928"/>
<rect x="48.00" y="501.94" width="16.00" height="2.06" fill="#c62f28"/>
<rect x="64.00" y="501.94" width="5.25" height="2.06" fill="#7e5428"/>
<rect x="39.50" y="504.00" width="8.50" height="4.79" fill="#944928"/>
<rect x="48.00" y="504.00" width="16.00" height="4.79" fill="#c62f28"/>
<rect x="64.00" y="504.00" width="5.25" height="4.79" fill="#7c5528"/>
<rect x="39.50" y="509.86" width="8.50" height="2.14" fill="#944928"/>
<rect x="48.00" y="509.86" width="16.00" height="2.14" fill="#c62f28"/>
<rect x="64.00" y="509.86" width="4.00" height="2.14" fill="#7c5528"/>
<rect x="39.50" y="512.00" width="8.50" height="4.71" fill="#944928"/>
<rect x="48.00" y="512.00" width="16.00" height="4.71" fill="#c62f28"/>
<rect x="64.00" y="512.00" width="4.00" height="4.71" fill="#755828"/>
<rect x="39.50" y="517.78" width="8.50" height="2.22" fill="#944928"/>
<rect x="48.00" y="517.78" width="16.00" height="2.22" fill="#c62f28"/>
<rect x="64.00" y="517.78" width="3.50" height="2.22" fill="#755828"/>
<rect x="39.50" y="520.00" width="8.50" height="4.63" fill="#944928"/>
<rect x="48.00" y="520.00" width="16.00" height="4.63" fill="#c62f28"/>
<rect x="64.00" y="520.00" width="3.50" height="4.63" fill="#735a28"/>
<rect x="39.50" y="525.71" width="8.50" height="2.29" fill="#944928"/>
<rect x="48.00" y="525.71" width="16.00" height="2.29" fill="#c62f28"/>
<rect x="64.00" y="525.71" width="3.50" height="2.29" fill="#735a28"/>
<rect x="39.50" y="528.00" width="8.50" height="4.56" fill="#944928"/>
<rect x="48.00" y="528.00" width="16.00" height="4.56" fill="#c62f28"/>
<rect x="64.00" y="528.00" width="3.50" height="4.56" fill="#735a28"/>
<rect x="39.50" y="533.63" width="8.50" height="2.37" fill="#944928"/>
<rect x="48.00" y="533.63" width="16.00" height="2.37" fill="#c62f28"/>
<rect x="64.00" y="533.63" width="3.50" height="2.37" fill="#735a28"/>
<rect x="39.50" y="536.00" width="8.50" height="4.48" fill="#805328"/>
<rect x="48.00" y="536.00" width="16.00" height="4.48" fill="#a04228"/>
<rect x="64.00" y="536.00" width="3.50" height="4.48" fill="#6a5e28"/>
<g font-size="5.15" fill="#323232" stroke="#323232" text-anchor="end" filter="url(#tb)">
<g clip-path="url(#c39a)">
<text x="35.60" y="388.30">logistics</text>
<text x="35.60" y="396.22">transport</text>
<text x="35.60" y="404.15">transportation</text>
<text x="35.60" y="412.07">cargo</text>
<text x="35.60" y="420.00">freight</text>
<text x="35.60" y="427.92">expedition</text>
<text x="35.60" y="435.84">field</text>
<text x="35.60" y="443.77">languages</text>
<text x="35.60" y="451.69">polish</text>
<text x="35.60" y="459.62">supply</text>
<text x="35.60" y="467.54">situation</text>
<text x="35.60" y="475.46">english</text>
<text x="35.60" y="483.39">good</text>
<text x="35.60" y="491.31">stressful</text>
<text x="35.60" y="499.24">german</text>
<text x="35.60" y="507.16">negotiation</text>
<text x="35.60" y="515.08">result</text>
<text x="35.60" y="523.01">knowledge</text>
<text x="35.60" y="530.93">quick</text>
<text x="35.60" y="538.86">decisions</text>
</g>
<g clip-path="url(#c39b)">
<text x="35.60" y="388.30" fill="#942a4e" stroke="#942a4e">logistics</text>
<text x="35.60" y="396.22" fill="#952a4e" stroke="#952a4e">transport</text>
<text x="35.60" y="404.15" fill="#942a4e" stroke="#942a4e">transportation</text>
<text x="35.60" y="412.07" fill="#952a4e" stroke="#952a4e">cargo</text>
<text x="35.60" y="420.00" fill="#952a4e" stroke="#952a4e">freight</text>
<text x="35.60" y="427.92" fill="#942a4e" stroke="#942a4e">expedition</text>
<text x="35.60" y="435.84" fill="#952a4e" stroke="#952a4e">field</text>
<text x="35.60" y="443.77" fill="#952a4e" stroke="#952a4e">languages</text>
<text x="35.60" y="451.69" fill="#952a4e" stroke="#952a4e">polish</text>
<text x="35.60" y="459.62" fill="#952a4e" stroke="#952a4e">supply</text>
<text x="35.60" y="467.54" fill="#952a4e" stroke="#952a4e">situation</text>
<text x="35.60" y="475.46" fill="#952a4e" stroke="#952a4e">english</text>
<text x="35.60" y="483.39" fill="#952a4e" stroke="#952a4e">good</text>
<text x="35.60" y="491.31" fill="#952a4e" stroke="#952a4e">stressful</text>
<text x="35.60" y="499.24" fill="#942a4e" stroke="#942a4e">german</text>
<text x="35.60" y="507.16" fill="#952a4e" stroke="#952a4e">negotiation</text>
<text x="35.60" y="515.08" fill="#952a4e" stroke="#952a4e">result</text>
<text x="35.60" y="523.01" fill="#942a4e" stroke="#942a4e">knowledge</text>
<text x="35.60" y="530.93" fill="#952a4e" stroke="#952a4e">quick</text>
<text x="35.60" y="538.86" fill="#7c374e" stroke="#7c374e">decisions</text>
</g>
</g>
<g font-size="5.15" fill="#323232" stroke="#323232" text-anchor="middle" filter="url(#tb)">
<text x="39.50" y="548.22">0</text>
<text x="73.60" y="548.22">0.01</text>
<text x="107.70" y="548.22">0.02</text>
<text x="141.80" y="548.22">0.03</text>
<text x="175.90" y="548.22">0.04</text>
</g>
<text x="92.1" y="376.49" font-size="6.45" fill="#2c2c2c" stroke="#2c2c2c" style="stroke-width:0.16px" text-anchor="middle" filter="url(#tb)">Profile 7</text>
</g>
<g>
<line x1="269.20" y1="382.54" x2="269.20" y2="541.02" stroke="#e9ebee" stroke-width="0.5"/>
<line x1="303.40" y1="382.54" x2="303.40" y2="541.02" stroke="#e9ebee" stroke-width="0.5"/>
<line x1="337.60" y1="382.54" x2="337.60" y2="541.02" stroke="#e9ebee" stroke-width="0.5"/>
<line x1="371.80" y1="382.54" x2="371.80" y2="541.02" stroke="#e9ebee" stroke-width="0.5"/>
<rect x="235.00" y="383.07" width="5.00" height="0.93" fill="#8074b9"/>
<rect x="240.00" y="383.07" width="112.00" height="0.93" fill="#8273b9"/>
<rect x="352.00" y="383.07" width="9.25" height="0.93" fill="#8174b9"/>
<rect x="235.00" y="384.00" width="5.00" height="5.93" fill="#8671b9"/>
<rect x="240.00" y="384.00" width="112.00" height="5.93" fill="#936bb9"/>
<rect x="352.00" y="384.00" width="9.25" height="5.93" fill="#8a6fb9"/>
<rect x="235.00" y="391.00" width="5.00" height="1.00" fill="#8671b9"/>
<rect x="240.00" y="391.00" width="112.00" height="1.00" fill="#936bb9"/>
<rect x="352.00" y="391.00" width="5.75" height="1.00" fill="#8a6fb9"/>
<rect x="235.00" y="392.00" width="5.00" height="5.85" fill="#8671b9"/>
<rect x="240.00" y="392.00" width="112.00" height="5.85" fill="#936ab9"/>
<rect x="352.00" y="392.00" width="5.75" height="5.85" fill="#8671b9"/>
<rect x="235.00" y="398.92" width="5.00" height="1.08" fill="#8671b9"/>
<rect x="240.00" y="398.92" width="112.00" height="1.08" fill="#936ab9"/>
<rect x="352.00" y="398.92" width="2.50" height="1.08" fill="#8671b9"/>
<rect x="235.00" y="400.00" width="5.00" height="5.77" fill="#8671b9"/>
<rect x="240.00" y="400.00" width="48.00" height="5.77" fill="#936bb9"/>
<rect x="288.00" y="400.00" width="16.00" height="5.77" fill="#926bb9"/>
<rect x="304.00" y="400.00" width="48.00" height="5.77" fill="#906cb9"/>
<rect x="352.00" y="400.00" width="2.50" height="5.77" fill="#8273b9"/>
<rect x="235.00" y="406.85" width="5.00" height="1.15" fill="#8671b9"/>
<rect x="240.00" y="406.85" width="48.00" height="1.15" fill="#936bb9"/>
<rect x="288.00" y="406.85" width="13.35" height="1.15" fill="#926bb9"/>
<rect x="235.00" y="408.00" width="5.00" height="5.70" fill="#8671b9"/>
<rect x="240.00" y="408.00" width="48.00" height="5.70" fill="#936ab9"/>
<rect x="288.00" y="408.00" width="13.35" height="5.70" fill="#8f6db9"/>
<rect x="235.00" y="414.77" width="5.00" height="1.23" fill="#8671b9"/>
<rect x="240.00" y="414.77" width="48.00" height="1.23" fill="#936ab9"/>
<rect x="288.00" y="414.77" width="8.25" height="1.23" fill="#8f6db9"/>
<rect x="235.00" y="416.00" width="5.00" height="5.62" fill="#8671b9"/>
<rect x="240.00" y="416.00" width="32.00" height="5.62" fill="#936bb9"/>
<rect x="272.00" y="416.00" width="16.00" height="5.62" fill="#926bb9"/>
<rect x="288.00" y="416.00" width="8.25" height="5.62" fill="#8870b9"/>
<rect x="235.00" y="422.69" width="5.00" height="1.31" fill="#8671b9"/>
<rect x="240.00" y="422.69" width="32.00" height="1.31" fill="#936bb9"/>
<rect x="272.00" y="422.69" width="12.25" height="1.31" fill="#926bb9"/>
<rect x="235.00" y="424.00" width="5.00" height="5.55" fill="#8671b9"/>
<rect x="240.00" y="424.00" width="32.00" height="5.55" fill="#936bb9"/>
<rect x="272.00" y="424.00" width="12.25" height="5.55" fill="#8d6eb9"/>
<rect x="235.00" y="430.62" width="5.00" height="1.38" fill="#8671b9"/>
<rect x="240.00" y="430.62" width="32.00" height="1.38" fill="#936bb9"/>
<rect x="272.00" y="430.62" width="5.50" height="1.38" fill="#8d6eb9"/>
<rect x="235.00" y="432.00" width="5.00" height="5.47" fill="#8671b9"/>
<rect x="240.00" y="432.00" width="32.00" height="5.47" fill="#936bb9"/>
<rect x="272.00" y="432.00" width="5.50" height="5.47" fill="#8671b9"/>
<rect x="235.00" y="438.54" width="5.00" height="1.46" fill="#8671b9"/>
<rect x="240.00" y="438.54" width="32.00" height="1.46" fill="#936bb9"/>
<rect x="272.00" y="438.54" width="4.75" height="1.46" fill="#8671b9"/>
<rect x="235.00" y="440.00" width="5.00" height="5.39" fill="#8671b9"/>
<rect x="240.00" y="440.00" width="32.00" height="5.39" fill="#936bb9"/>
<rect x="272.00" y="440.00" width="4.75" height="5.39" fill="#8572b9"/>
<rect x="235.00" y="446.47" width="5.00" height="1.53" fill="#8671b9"/>
<rect x="240.00" y="446.47" width="32.00" height="1.53" fill="#936bb9"/>
<rect x="272.00" y="446.47" width="4.50" height="1.53" fill="#8572b9"/>
<rect x="235.00" y="448.00" width="5.00" height="5.32" fill="#8671b9"/>
<rect x="240.00" y="448.00" width="32.00" height="5.32" fill="#936bb9"/>
<rect x="272.00" y="448.00" width="4.50" height="5.32" fill="#8572b9"/>
<rect x="235.00" y="454.39" width="5.00" height="1.61" fill="#8671b9"/>
<rect x="240.00" y="454.39" width="32.00" height="1.61" fill="#936bb9"/>
<rect x="272.00" y="454.39" width="4.00" height="1.61" fill="#8572b9"/>
<rect x="235.00" y="456.00" width="5.00" height="5.24" fill="#8671b9"/>
<rect x="240.00" y="456.00" width="16.00" height="5.24" fill="#936bb9"/>
<rect x="256.00" y="456.00" width="16.00" height="5.24" fill="#926bb9"/>
<rect x="272.00" y="456.00" width="4.00" height="5.24" fill="#8373b9"/>
<rect x="235.00" y="462.31" width="5.00" height="1.69" fill="#8671b9"/>
<rect x="240.00" y="462.31" width="16.00" height="1.69" fill="#936bb9"/>
<rect x="256.00" y="462.31" width="13.75" height="1.69" fill="#926bb9"/>
<rect x="235.00" y="464.00" width="5.00" height="5.17" fill="#8671b9"/>
<rect x="240.00" y="464.00" width="16.00" height="5.17" fill="#936bb9"/>
<rect x="256.00" y="464.00" width="13.75" height="5.17" fill="#906cb9"/>
<rect x="235.00" y="470.24" width="5.00" height="1.76" fill="#8671b9"/>
<rect x="240.00" y="470.24" width="16.00" height="1.76" fill="#936bb9"/>
<rect x="256.00" y="470.24" width="13.00" height="1.76" fill="#906cb9"/>
<rect x="235.00" y="472.00" width="5.00" height="5.09" fill="#8671b9"/>
<rect x="240.00" y="472.00" width="16.00" height="5.09" fill="#936ab9"/>
<rect x="256.00" y="472.00" width="13.00" height="5.09" fill="#8f6db9"/>
<rect x="235.00" y="478.16" width="5.00" height="1.84" fill="#8671b9"/>
<rect x="240.00" y="478.16" width="16.00" height="1.84" fill="#936ab9"/>
<rect x="256.00" y="478.16" width="11.25" height="1.84" fill="#8f6db9"/>
<rect x="235.00" y="480.00" width="5.00" height="5.01" fill="#8671b9"/>
<rect x="240.00" y="480.00" width="16.00" height="5.01" fill="#936ab9"/>
<rect x="256.00" y="480.00" width="11.25" height="5.01" fill="#8d6eb9"/>
<rect x="235.00" y="486.09" width="5.00" height="1.91" fill="#8671b9"/>
<rect x="240.00" y="486.09" width="16.00" height="1.91" fill="#936ab9"/>
<rect x="256.00" y="486.09" width="10.50" height="1.91" fill="#8d6eb9"/>
<rect x="235.00" y="488.00" width="5.00" height="4.94" fill="#8671b9"/>
<rect x="240.00" y="488.00" width="16.00" height="4.94" fill="#936bb9"/>
<rect x="256.00" y="488.00" width="10.50" height="4.94" fill="#8c6eb9"/>
<rect x="235.00" y="494.01" width="5.00" height="1.99" fill="#8671b9"/>
<rect x="240.00" y="494.01" width="16.00" height="1.99" fill="#936bb9"/>
<rect x="256.00" y="494.01" width="10.00" height="1.99" fill="#8c6eb9"/>
<rect x="235.00" y="496.00" width="5.00" height="4.86" fill="#8671b9"/>
<rect x="240.00" y="496.00" width="16.00" height="4.86" fill="#936bb9"/>
<rect x="256.00" y="496.00" width="10.00" height="4.86" fill="#8c6eb9"/>
<rect x="235.00" y="501.94" width="5.00" height="2.06" fill="#8671b9"/>
<rect x="240.00" y="501.94" width="16.00" height="2.06" fill="#936bb9"/>
<rect x="256.00" y="501.94" width="9.75" height="2.06" fill="#8c6eb9"/>
<rect x="235.00" y="504.00" width="5.00" height="4.79" fill="#8671b9"/>
<rect x="240.00" y="504.00" width="16.00" height="4.79" fill="#936bb9"/>
<rect x="256.00" y="504.00" width="9.75" height="4.79" fill="#8b6fb9"/>
<rect x="235.00" y="509.86" width="5.00" height="2.14" fill="#8671b9"/>
<rect x="240.00" y="509.86" width="16.00" height="2.14" fill="#936bb9"/>
<rect x="256.00" y="509.86" width="9.00" height="2.14" fill="#8b6fb9"/>
<rect x="235.00" y="512.00" width="5.00" height="4.71" fill="#8671b9"/>
<rect x="240.00" y="512.00" width="16.00" height="4.71" fill="#936bb9"/>
<rect x="256.00" y="512.00" width="9.00" height="4.71" fill="#8a6fb9"/>
<rect x="235.00" y="517.78" width="5.00" height="2.22" fill="#8671b9"/>
<rect x="240.00" y="517.78" width="16.00" height="2.22" fill="#936bb9"/>
<rect x="256.00" y="517.78" width="8.75" height="2.22" fill="#8a6fb9"/>
<rect x="235.00" y="520.00" width="5.00" height="4.63" fill="#8671b9"/>
<rect x="240.00" y="520.00" width="16.00" height="4.63" fill="#936bb9"/>
<rect x="256.00" y="520.00" width="8.75" height="4.63" fill="#8a6fb9"/>
<rect x="235.00" y="525.71" width="5.00" height="2.29" fill="#8671b9"/>
<rect x="240.00" y="525.71" width="16.00" height="2.29" fill="#936bb9"/>
<rect x="256.00" y="525.71" width="8.75" height="2.29" fill="#8a6fb9"/>
<rect x="235.00" y="528.00" width="5.00" height="4.56" fill="#8671b9"/>
<rect x="240.00" y="528.00" width="16.00" height="4.56" fill="#936bb9"/>
<rect x="256.00" y="528.00" width="8.75" height="4.56" fill="#8a6fb9"/>
<rect x="235.00" y="533.63" width="5.00" height="2.37" fill="#8671b9"/>
<rect x="240.00" y="533.63" width="16.00" height="2.37" fill="#936bb9"/>
<rect x="256.00" y="533.63" width="7.25" height="2.37" fill="#8a6fb9"/>
<rect x="235.00" y="536.00" width="5.00" height="4.48" fill="#8472b9"/>
<rect x="240.00" y="536.00" width="16.00" height="4.48" fill="#8c6eb9"/>
<rect x="256.00" y="536.00" width="7.25" height="4.48" fill="#8572b9"/>
<g font-size="5.15" fill="#323232" stroke="#323232" text-anchor="end" filter="url(#tb)">
<g clip-path="url(#c235a)">
<text x="231.10" y="388.30">driver</text>
<text x="231.10" y="396.22">category</text>
<text x="231.10" y="404.15">license</text>
<text x="231.10" y="412.07">driving</text>
<text x="231.10" y="420.00">car</text>
<text x="231.10" y="427.92">criminal</text>
<text x="231.10" y="435.84">habits</text>
<text x="231.10" y="443.77">bad</text>
<text x="231.10" y="451.69">licence</text>
<text x="231.10" y="459.62">diligence</text>
<text x="231.10" y="467.54">record</text>
<text x="231.10" y="475.46">german</text>
<text x="231.10" y="483.39">clean</text>
<text x="231.10" y="491.31">responsibility</text>
<text x="231.10" y="499.24">cat</text>
<text x="231.10" y="507.16">responsible</text>
<text x="231.10" y="515.08">valid</text>
<text x="231.10" y="523.01">honesty</text>
<text x="231.10" y="530.93">punctuality</text>
<text x="231.10" y="538.86">accountability</text>
</g>
<g clip-path="url(#c235b)">
<text x="231.10" y="388.30" fill="#564a4e" stroke="#564a4e">driver</text>
<text x="231.10" y="396.22" fill="#564a4e" stroke="#564a4e">category</text>
<text x="231.10" y="404.15" fill="#564a4e" stroke="#564a4e">license</text>
<text x="231.10" y="412.07" fill="#564a4e" stroke="#564a4e">driving</text>
<text x="231.10" y="420.00" fill="#564a4e" stroke="#564a4e">car</text>
<text x="231.10" y="427.92" fill="#564a4e" stroke="#564a4e">criminal</text>
<text x="231.10" y="435.84" fill="#564a4e" stroke="#564a4e">habits</text>
<text x="231.10" y="443.77" fill="#564a4e" stroke="#564a4e">bad</text>
<text x="231.10" y="451.69" fill="#564a4e" stroke="#564a4e">licence</text>
<text x="231.10" y="459.62" fill="#564a4e" stroke="#564a4e">diligence</text>
<text x="231.10" y="467.54" fill="#564a4e" stroke="#564a4e">record</text>
<text x="231.10" y="475.46" fill="#564a4e" stroke="#564a4e">german</text>
<text x="231.10" y="483.39" fill="#564a4e" stroke="#564a4e">clean</text>
<text x="231.10" y="491.31" fill="#564a4e" stroke="#564a4e">responsibility</text>
<text x="231.10" y="499.24" fill="#564a4e" stroke="#564a4e">cat</text>
<text x="231.10" y="507.16" fill="#564a4e" stroke="#564a4e">responsible</text>
<text x="231.10" y="515.08" fill="#564a4e" stroke="#564a4e">valid</text>
<text x="231.10" y="523.01" fill="#564a4e" stroke="#564a4e">honesty</text>
<text x="231.10" y="530.93" fill="#564a4e" stroke="#564a4e">punctuality</text>
<text x="231.10" y="538.86" fill="#372f32" stroke="#372f32">accountability</text>
</g>
</g>
<g font-size="5.15" fill="#323232" stroke="#323232" text-anchor="middle" filter="url(#tb)">
<text x="235.00" y="548.22">0</text>
<text x="269.20" y="548.22">0.01</text>
<text x="303.40" y="548.22">0.02</text>
<text x="337.60" y="548.22">0.03</text>
<text x="371.80" y="548.22">0.04</text>
</g>
<text x="287.6" y="376.49" font-size="6.45" fill="#2c2c2c" stroke="#2c2c2c" style="stroke-width:0.16px" text-anchor="middle" filter="url(#tb)">Profile 8</text>
</g>
</svg></body></html>
